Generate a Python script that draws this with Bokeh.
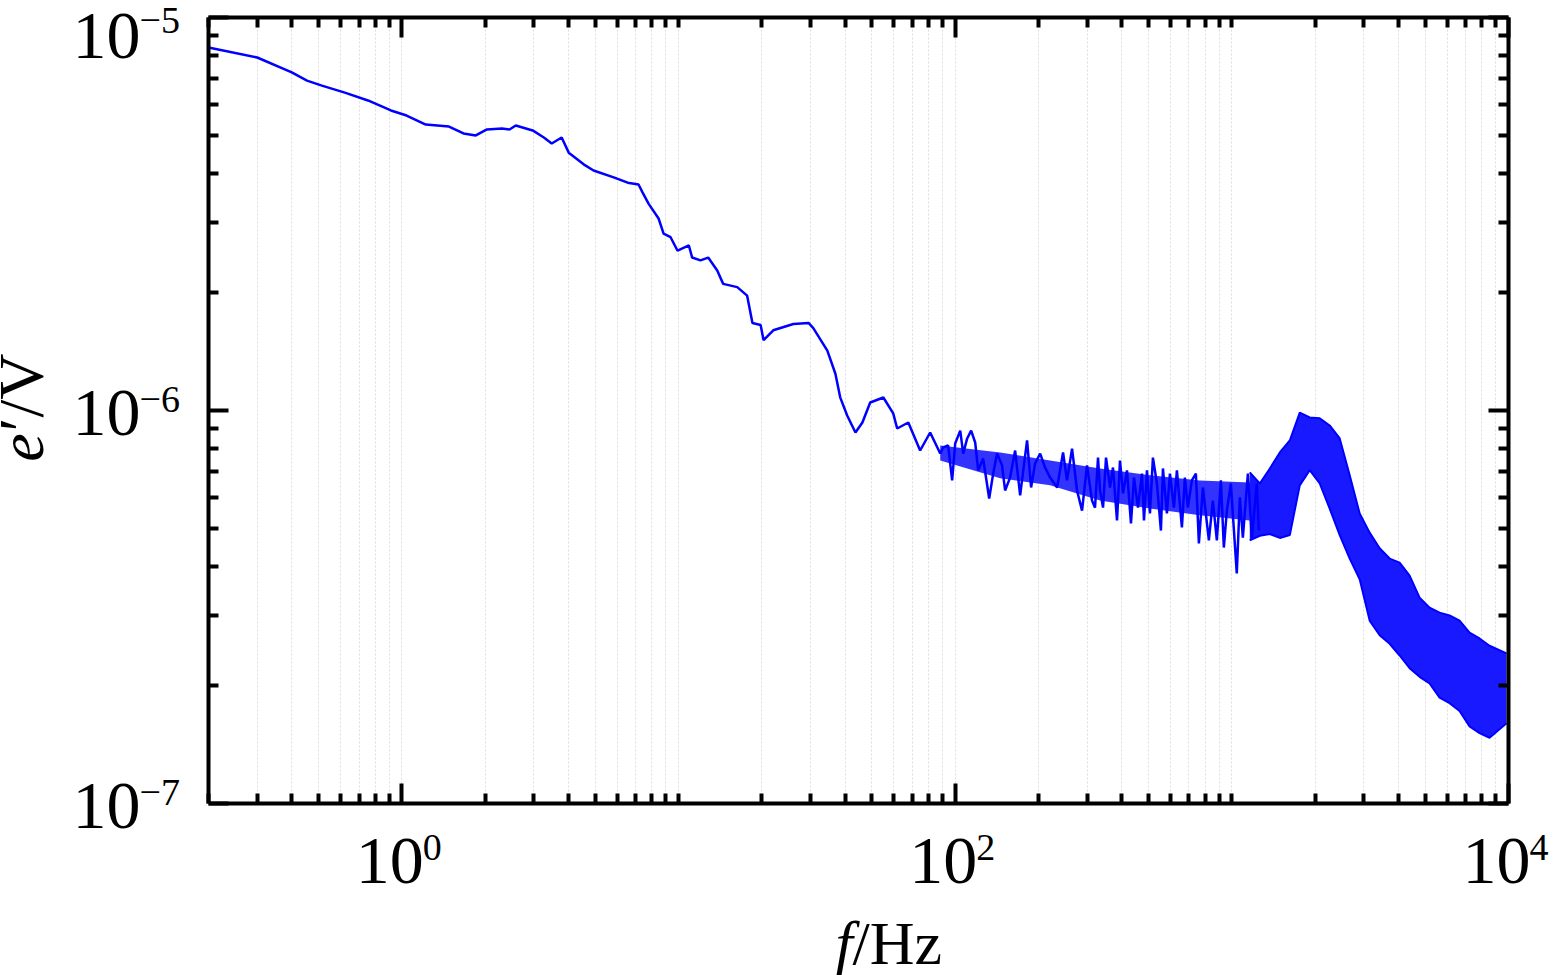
from math import pi, log10
from bokeh.plotting import figure
from bokeh.models import LogAxis, FixedTicker, Range1d, LinearScale, ColumnDataSource
from bokeh.layouts import row, column
from bokeh.core.properties import value
from bokeh.embed import file_html
from bokeh.resources import INLINE

# ---- data (f in Hz, e' in V) ----
# smooth low-frequency part
freq_low = [0.2, 0.30, 0.40, 0.454, 0.514, 0.622, 0.754, 0.913, 1.04, 1.22,
            1.48, 1.67, 1.85, 2.03, 2.30, 2.45, 2.58, 2.97, 3.26, 3.48,
            3.78, 4.01, 4.54, 4.93, 5.83, 6.55, 7.17, 7.41, 7.79, 8.47,
            8.83, 9.36, 9.92, 10.9, 11.2, 12.0, 12.8, 13.8, 14.5, 16.3,
            17.7, 18.5, 19.8, 20.3, 22.0, 26.0, 29.5, 30.7, 34.5, 36.9,
            38.4, 40.7, 43.6, 46.2, 49.3, 55.0, 59.7, 61.7, 67.7, 74.7,
            81.2]
emf_low = [8.39e-6, 7.91e-6, 7.25e-6, 6.91e-6, 6.71e-6, 6.44e-6, 6.15e-6, 5.80e-6, 5.63e-6, 5.34e-6,
           5.28e-6, 5.07e-6, 5.01e-6, 5.19e-6, 5.22e-6, 5.19e-6, 5.31e-6, 5.16e-6, 4.95e-6, 4.78e-6,
           4.95e-6, 4.53e-6, 4.23e-6, 4.08e-6, 3.92e-6, 3.80e-6, 3.76e-6, 3.59e-6, 3.36e-6, 3.08e-6,
           2.82e-6, 2.76e-6, 2.55e-6, 2.63e-6, 2.45e-6, 2.41e-6, 2.45e-6, 2.27e-6, 2.10e-6, 2.06e-6,
           1.96e-6, 1.67e-6, 1.65e-6, 1.51e-6, 1.60e-6, 1.66e-6, 1.67e-6, 1.62e-6, 1.42e-6, 1.24e-6,
           1.08e-6, 0.971e-6, 0.879e-6, 0.932e-6, 1.048e-6, 1.079e-6, 0.983e-6, 0.900e-6, 0.932e-6, 0.791e-6,
           0.879e-6]

# noisy mid-frequency part (peaks and troughs)
freq_mid = [88.3, 90.5, 94.3, 97.5, 100.0, 104.3, 106.9, 110.5, 114.2, 118.1,
            121.1, 126.2, 132.7, 137.2, 141.7, 147.7, 151.5, 157.9, 164.7, 171.7,
            181.9, 188.1, 194.5, 202.8, 211.3, 220.3, 233.6, 245.4, 253.7, 264.5,
            275.7, 287.4, 299.6, 312.3, 320.2, 328.3, 333.9, 342.3, 350.9, 362.8,
            371.9, 384.5, 394.2, 404.2, 417.8, 431.9, 442.9, 457.8, 473.3, 481.3,
            493.4, 505.8, 518.5, 536.0, 554.2, 563.5, 582.5, 597.3, 617.4, 633.0,
            659.9, 676.5, 693.6, 717.1, 741.3, 760.1, 785.8, 826.0, 853.9, 882.7,
            912.6, 935.6, 959.3, 991.7, 1008, 1042, 1069, 1096, 1143, 1181,
            1231, 1252]
emf_mid = [0.777e-6, 0.805e-6, 0.815e-6, 0.664e-6, 0.824e-6, 0.889e-6, 0.777e-6, 0.849e-6, 0.889e-6, 0.829e-6,
           0.704e-6, 0.755e-6, 0.597e-6, 0.691e-6, 0.777e-6, 0.725e-6, 0.626e-6, 0.675e-6, 0.791e-6, 0.608e-6,
           0.839e-6, 0.637e-6, 0.733e-6, 0.777e-6, 0.716e-6, 0.675e-6, 0.637e-6, 0.782e-6, 0.664e-6, 0.800e-6,
           0.626e-6, 0.556e-6, 0.725e-6, 0.590e-6, 0.566e-6, 0.759e-6, 0.626e-6, 0.566e-6, 0.759e-6, 0.637e-6,
           0.716e-6, 0.525e-6, 0.746e-6, 0.615e-6, 0.704e-6, 0.516e-6, 0.675e-6, 0.566e-6, 0.691e-6, 0.525e-6,
           0.704e-6, 0.547e-6, 0.759e-6, 0.652e-6, 0.495e-6, 0.712e-6, 0.547e-6, 0.691e-6, 0.566e-6, 0.704e-6,
           0.504e-6, 0.675e-6, 0.566e-6, 0.664e-6, 0.691e-6, 0.459e-6, 0.637e-6, 0.467e-6, 0.590e-6, 0.467e-6,
           0.664e-6, 0.448e-6, 0.556e-6, 0.652e-6, 0.547e-6, 0.385e-6, 0.601e-6, 0.475e-6, 0.691e-6, 0.475e-6,
           0.652e-6, 0.495e-6]

# solid core of the mid-frequency noise
core_freq = [88.3, 145.4, 220.3, 333.9, 505.8, 766.3, 1161]
core_hi = [0.815e-6, 0.782e-6, 0.746e-6, 0.712e-6, 0.684e-6, 0.664e-6, 0.656e-6]
core_lo = [0.746e-6, 0.672e-6, 0.645e-6, 0.590e-6, 0.563e-6, 0.541e-6, 0.525e-6]

# dense noisy high-frequency part: upper / lower envelopes
band_freq = [1161, 1262, 1372, 1491, 1620, 1760, 1912, 2078, 2258, 2454, 2667, 2898, 3149,
             3422, 3719, 4041, 4391, 4772, 5186, 5635, 6124, 6655, 7232, 7859, 8540, 9840]
band_hi = [0.696e-6, 0.652e-6, 0.712e-6, 0.782e-6, 0.839e-6, 0.988e-6, 0.960e-6, 0.955e-6, 0.916e-6,
           0.849e-6, 0.684e-6, 0.547e-6, 0.489e-6, 0.446e-6, 0.420e-6, 0.410e-6, 0.380e-6, 0.334e-6,
           0.315e-6, 0.306e-6, 0.301e-6, 0.292e-6, 0.272e-6, 0.263e-6, 0.252e-6, 0.241e-6]
band_lo = [0.467e-6, 0.480e-6, 0.485e-6, 0.474e-6, 0.482e-6, 0.645e-6, 0.705e-6, 0.652e-6, 0.563e-6,
           0.482e-6, 0.420e-6, 0.372e-6, 0.292e-6, 0.268e-6, 0.255e-6, 0.238e-6, 0.221e-6, 0.210e-6,
           0.202e-6, 0.186e-6, 0.180e-6, 0.172e-6, 0.157e-6, 0.151e-6, 0.147e-6, 0.160e-6]

# ticks and tick labels
x_major = [1, 100, 10000]
x_minor = [0.2, 0.3, 0.4, 0.5, 0.6, 0.7, 0.8, 0.9, 2, 3, 4, 5, 6, 7, 8, 9, 10,
           20, 30, 40, 50, 60, 70, 80, 90, 200, 300, 400, 500, 600, 700, 800, 900,
           1000, 2000, 3000, 4000, 5000, 6000, 7000, 8000, 9000]
x_tick_base = ["10", "10", "10"]
x_tick_exp = ["0", "2", "4"]
y_major = [1e-7, 1e-6, 1e-5]
y_minor = [2e-7, 3e-7, 4e-7, 5e-7, 6e-7, 7e-7, 8e-7, 9e-7,
           2e-6, 3e-6, 4e-6, 5e-6, 6e-6, 7e-6, 8e-6, 9e-6]
y_tick_base = ["10", "10", "10"]
y_tick_exp = ["\u22127", "\u22126", "\u22125"]

x_title = ["f", "/Hz"]
y_title = ["e", "\u2032/V"]

# ---- layout / style constants ----
FONT = "Liberation Serif"
BLUE = "#0000ff"
W, H = 1558, 975
LEFT_W = 200                     # width of the tick-label / title panel on the left
BL, BT, BR, BB = 8, 17, 50, 8    # borders of the main plot
FW, FH = 1300, 786               # frame size
MAIN_W = BL + FW + BR
MAIN_H = BT + FH + BB
FRAME_B = BT + FH                # page y of frame bottom
X0, X1 = 0.2, 1e4
Y0, Y1 = 1e-7, 1e-5


def no_align(fig):
    try:
        fig.frame_align = False
    except Exception:
        pass


p = figure(x_axis_type="log", y_axis_type="log",
           x_range=Range1d(X0, X1), y_range=Range1d(Y0, Y1),
           x_axis_location=None, y_axis_location=None,
           frame_width=FW, frame_height=FH,
           min_border_left=BL, min_border_top=BT, min_border_right=BR, min_border_bottom=BB,
           output_backend="svg", toolbar_location=None)
p.outline_line_color = None
p.background_fill_color = "white"
no_align(p)

xt = FixedTicker(ticks=x_major, minor_ticks=x_minor)
yt = FixedTicker(ticks=y_major, minor_ticks=y_minor)


def make_axis(ticker):
    ax = LogAxis(ticker=ticker)
    ax.axis_line_width = 4
    ax.axis_line_color = "black"
    ax.major_tick_line_width = 4
    ax.minor_tick_line_width = 4
    ax.major_tick_line_color = "black"
    ax.minor_tick_line_color = "black"
    ax.major_tick_in = 20
    ax.major_tick_out = 0
    ax.minor_tick_in = 10
    ax.minor_tick_out = 0
    ax.major_label_text_font_size = "2px"
    ax.major_label_text_color = None
    ax.major_label_standoff = 0
    return ax


p.add_layout(make_axis(xt), "below")
p.add_layout(make_axis(yt), "left")
p.add_layout(make_axis(xt), "above")
p.add_layout(make_axis(yt), "right")

p.xgrid.ticker = xt
p.xgrid.grid_line_color = "#dcdcdc"
p.xgrid.grid_line_dash = "2 2"
p.xgrid.minor_grid_line_color = "#dcdcdc"
p.xgrid.minor_grid_line_dash = "2 2"
p.ygrid.visible = False

p.varea(x=core_freq, y1=core_lo, y2=core_hi, fill_color=BLUE, fill_alpha=0.8)
p.varea(x=band_freq, y1=band_lo, y2=band_hi, fill_color=BLUE, fill_alpha=0.9)
p.line(band_freq, band_hi, line_color=BLUE, line_width=2)
p.line(band_freq, band_lo, line_color=BLUE, line_width=2)
p.line(freq_low + freq_mid, emf_low + emf_mid, line_color=BLUE, line_width=2.5)

# ---- left panel: y tick labels and y title ----
dec_y = FH / (log10(Y1) - log10(Y0))
left = figure(width=LEFT_W, height=H, x_range=Range1d(0, LEFT_W),
              y_range=Range1d(10 ** (log10(Y0) - (H - FRAME_B) / dec_y), 10 ** (log10(Y1) + BT / dec_y)),
              y_axis_type="log", x_axis_location=None, y_axis_location=None, min_border=0,
              output_backend="svg", toolbar_location=None)
no_align(left)
left.extra_y_ranges = {"page": Range1d(H, 0)}
left.extra_y_scales = {"page": LinearScale()}
left.outline_line_color = None
left.grid.visible = False
ysrc = ColumnDataSource(dict(y=y_major, base=y_tick_base, expo=y_tick_exp,
                             dy_base=[2, 2, 18], dy_exp=[-11, -11, 3]))
left.text(x=140, y="y", text="base", source=ysrc, y_offset="dy_base",
          text_font=value(FONT), text_font_size="68px", text_color="black",
          text_align="right", text_baseline="middle")
left.text(x=139, y="y", text="expo", source=ysrc, y_offset="dy_exp",
          text_font=value(FONT), text_font_size="38px", text_color="black",
          text_align="left", text_baseline="middle")
left.text(x=[21], y=[447], text=[y_title[0]], angle=pi / 2, y_range_name="page",
          text_font=value(FONT), text_font_style="italic", text_font_size="64px",
          text_color="black", text_align="center", text_baseline="middle")
left.text(x=[21], y=[392], text=[y_title[1]], angle=pi / 2, y_range_name="page",
          text_font=value(FONT), text_font_style="normal", text_font_size="64px",
          text_color="black", text_align="center", text_baseline="middle")

# ---- bottom panel: x tick labels and x title ----
dec_x = FW / (log10(X1) - log10(X0))
bottom = figure(width=MAIN_W, height=H - MAIN_H,
                x_range=Range1d(10 ** (log10(X0) - BL / dec_x), 10 ** (log10(X1) + BR / dec_x)),
                y_range=Range1d(H, MAIN_H),
                x_axis_type="log", x_axis_location=None, y_axis_location=None, min_border=0,
                output_backend="svg", toolbar_location=None)
no_align(bottom)
bottom.extra_x_ranges = {"page": Range1d(LEFT_W, LEFT_W + MAIN_W)}
bottom.extra_x_scales = {"page": LinearScale()}
bottom.outline_line_color = None
bottom.grid.visible = False
xsrc = ColumnDataSource(dict(x=x_major, base=x_tick_base, expo=x_tick_exp))
bottom.text(x="x", y=FRAME_B + 57, text="base", source=xsrc, x_offset=22,
            text_font=value(FONT), text_font_size="68px", text_color="black",
            text_align="right", text_baseline="middle")
bottom.text(x="x", y=FRAME_B + 44, text="expo", source=xsrc, x_offset=21,
            text_font=value(FONT), text_font_size="38px", text_color="black",
            text_align="left", text_baseline="middle")
bottom.text(x=[835], y=[942], text=[x_title[0]], x_range_name="page",
            text_font=value(FONT), text_font_style="italic", text_font_size="62px",
            text_color="black", text_align="left", text_baseline="middle")
bottom.text(x=[852], y=[942], text=[x_title[1]], x_range_name="page",
            text_font=value(FONT), text_font_style="normal", text_font_size="62px",
            text_color="black", text_align="left", text_baseline="middle")

layout = row(left, column(p, bottom))
open("out.html", "w").write(file_html(layout, INLINE))
